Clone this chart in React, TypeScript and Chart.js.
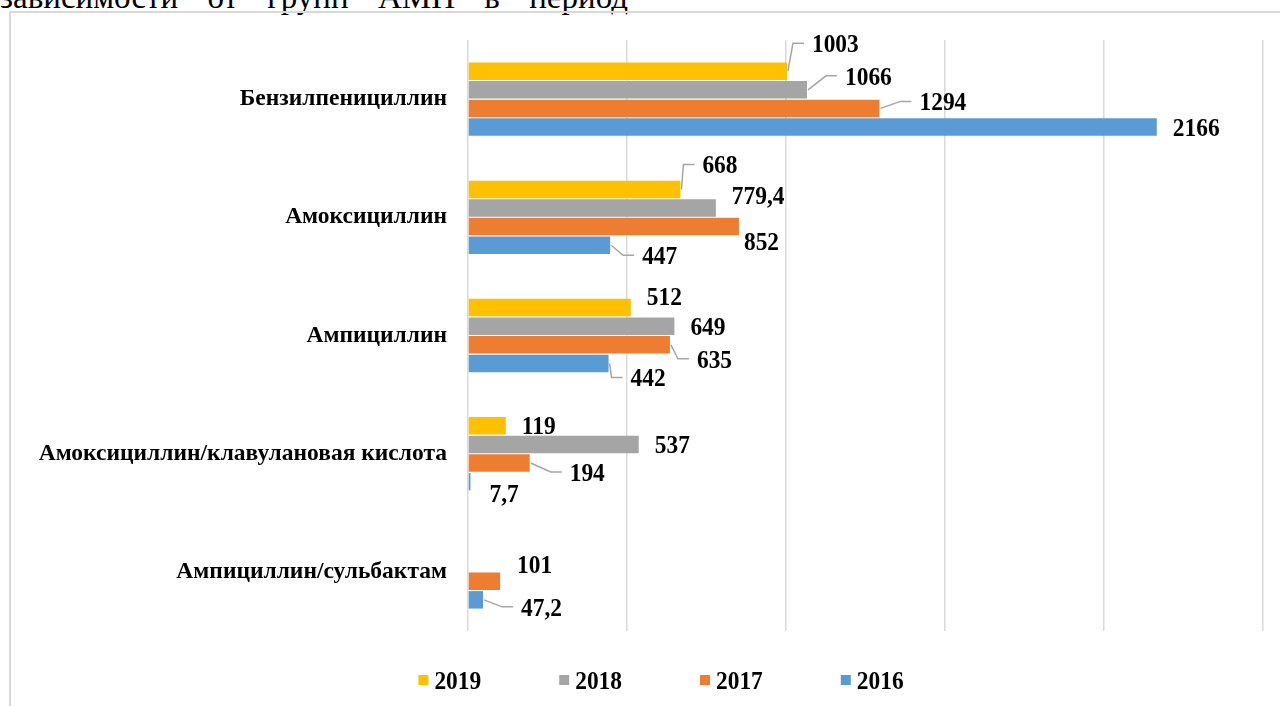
import React, { useEffect, useRef } from "react";
import { Chart, registerables } from "chart.js";

Chart.register(...registerables);

// ---- data ----
const categories = [
  "Бензилпенициллин",
  "Амоксициллин",
  "Ампициллин",
  "Амоксициллин/клавулановая кислота",
  "Ампициллин/сульбактам",
];
const seriesNames = ["2019", "2018", "2017", "2016"];
const values2019: (number | null)[] = [1003, 668, 512, 119, null];
const values2018: (number | null)[] = [1066, 779.4, 649, 537, null];
const values2017: (number | null)[] = [1294, 852, 635, 194, 101];
const values2016: (number | null)[] = [2166, 447, 442, 7.7, 47.2];
const axisMin = 0;
const axisMax = 2500;
const axisStep = 500;
const headerWords = ["зависимости", "от", "групп", "АМП", "в", "период"];

// ---- styles ----
const FONT = "'Liberation Serif', 'Times New Roman', serif";
const seriesColors = ["#FFC000", "#A5A5A5", "#ED7D31", "#5B9BD5"];
const GRID_COLOR = "#d9d9d9";
const LEADER_COLOR = "#a6a6a6";
// label placement relative to bar end: [dx to text left, dy of text centre, leader line?]
const labelPlacement2019 = [[25, -28, 1], [22, -25, 1], [16, -11, 0], [16, -1, 0], null];
const labelPlacement2018 = [[38, -14, 1], [16, -13, 0], [16, 0, 0], [16, 0, 0], null];
const labelPlacement2017 = [[40, -7, 1], [5, 15, 0], [27, 14, 1], [40, 9, 1], [17, -17, 0]];
const labelPlacement2016 = [[16, 0, 0], [32, 10, 1], [22, 14, 1], [19, 12, 0], [38, 7, 1]];
const labelPlacements = [labelPlacement2019, labelPlacement2018, labelPlacement2017, labelPlacement2016];
const LEGEND_CENTER_X = 661;
const LEGEND_Y = 680;

const fmt = (v: number) => String(v).replace(".", ",");

const valueLabels = {
  id: "valueLabels",
  afterDatasetsDraw(chart: any) {
    const ctx = chart.ctx as CanvasRenderingContext2D;
    chart.data.datasets.forEach((ds: any, di: number) => {
      const meta = chart.getDatasetMeta(di);
      meta.data.forEach((bar: any, i: number) => {
        const v = ds.data[i];
        if (v == null) return;
        const p = labelPlacements[di][i] as number[] | null;
        if (!p) return;
        const x = bar.x;
        const y = bar.y;
        const tx = x + p[0];
        const cy = y + p[1];
        if (p[2]) {
          ctx.save();
          ctx.strokeStyle = LEADER_COLOR;
          ctx.lineWidth = 1.5;
          ctx.beginPath();
          ctx.moveTo(x + 1, y);
          ctx.lineTo(tx - 19, cy);
          ctx.lineTo(tx - 8, cy);
          ctx.stroke();
          ctx.restore();
        }
        ctx.save();
        ctx.font = `bold 26px ${FONT}`;
        ctx.fillStyle = "#000";
        ctx.textAlign = "left";
        ctx.textBaseline = "alphabetic";
        ctx.translate(tx, cy + 8.8);
        ctx.scale(0.9, 1);
        ctx.fillText(fmt(v), 0, 0);
        ctx.restore();
      });
    });
  },
  afterDraw(chart: any) {
    const ctx = chart.ctx as CanvasRenderingContext2D;
    ctx.save();
    ctx.font = `bold 26px ${FONT}`;
    const sx = 0.9;
    const box = 10;
    const gap = 6;
    const spacing = 78;
    const items = chart.data.datasets.map((ds: any) => ({
      text: ds.label as string,
      color: ds.backgroundColor as string,
      w: ctx.measureText(ds.label).width * sx,
    }));
    const total = items.reduce((s: number, it: any) => s + box + gap + it.w, 0) + spacing * (items.length - 1);
    let x = LEGEND_CENTER_X - total / 2;
    items.forEach((it: any) => {
      ctx.fillStyle = it.color;
      ctx.fillRect(x, LEGEND_Y - box / 2, box, box);
      x += box + gap;
      ctx.save();
      ctx.fillStyle = "#000";
      ctx.textBaseline = "alphabetic";
      ctx.translate(x, LEGEND_Y + 8.8);
      ctx.scale(sx, 1);
      ctx.fillText(it.text, 0, 0);
      ctx.restore();
      x += it.w + spacing;
    });
    ctx.restore();
  },
};

export default function App() {
  const ref = useRef<HTMLCanvasElement | null>(null);

  useEffect(() => {
    if (!ref.current) return;
    const seriesValues = [values2019, values2018, values2017, values2016];
    const chart = new Chart(ref.current, {
      type: "bar",
      data: {
        labels: categories,
        datasets: seriesNames.map((name, i) => ({
          label: name,
          data: seriesValues[i],
          backgroundColor: seriesColors[i],
          borderWidth: 0,
          categoryPercentage: 0.63,
          barPercentage: 0.94,
        })),
      },
      options: {
        indexAxis: "y",
        responsive: false,
        animation: false,
        maintainAspectRatio: false,
        layout: { padding: { top: 40, right: 17, bottom: 75, left: 0 } },
        plugins: {
          legend: { display: false },
          tooltip: { enabled: false },
          title: { display: false },
        },
        scales: {
          x: {
            min: axisMin,
            max: axisMax,
            ticks: { display: false, stepSize: axisStep },
            grid: { color: GRID_COLOR, lineWidth: 1.5, drawTicks: false },
            border: { display: false },
            afterFit: (scale: any) => {
              scale.height = 0;
            },
          },
          y: {
            ticks: {
              color: "#000",
              font: { family: FONT, size: 23.5, weight: "bold" },
              padding: 21,
            },
            grid: { display: false, drawTicks: false },
            border: { display: false },
            afterFit: (scale: any) => {
              scale.width = 468;
            },
          },
        },
      } as any,
      plugins: [valueLabels],
    });
    return () => chart.destroy();
  }, []);

  return (
    <div style={{ position: "fixed", left: 0, top: 0, width: 1280, height: 706, overflow: "hidden", background: "#fff" }}>
      <div
        style={{
          position: "absolute",
          left: 0,
          top: -18.6,
          width: 628,
          display: "flex",
          justifyContent: "space-between",
          fontFamily: FONT,
          fontSize: 33,
          lineHeight: "33px",
          whiteSpace: "nowrap",
          color: "#000",
        }}
      >
        {headerWords.map((w, i) => (
          <span key={i}>{w}</span>
        ))}
      </div>
      <div
        style={{
          position: "absolute",
          left: 9,
          top: 11,
          width: 1300,
          height: 720,
          border: `2px solid ${GRID_COLOR}`,
          boxSizing: "border-box",
        }}
      />
      <canvas ref={ref} width={1280} height={706} style={{ position: "absolute", left: 0, top: 0 }} />
    </div>
  );
}
